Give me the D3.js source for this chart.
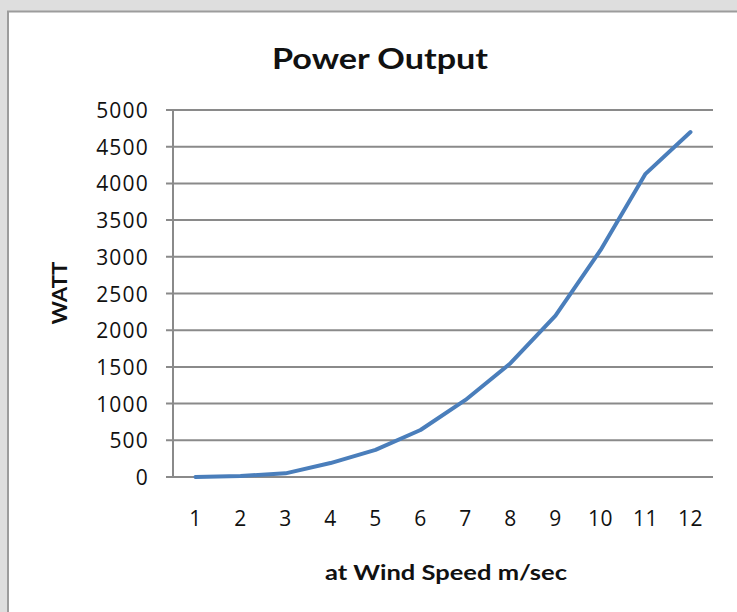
<!DOCTYPE html>
<html>
 <head>
  <title>Power Output</title>
  <style>
  body {
   margin: 0;
   background-color: #dedede;
  }
  text {
   font-family: Lato, "Open Sans", sans-serif;
   fill: #111;
  }
  .tick text {
   font-family: "Open Sans", sans-serif;
  }
  </style>
  <script src="https://cdnjs.cloudflare.com/ajax/libs/d3/7.8.3/d3.min.js"></script>
 </head>

 <body>
  <script>
   const windSpeeds = ["1", "2", "3", "4", "5", "6", "7", "8", "9", "10", "11", "12"];
   const watts = [0, 15, 50, 190, 370, 640, 1050, 1550, 2200, 3090, 4130, 4700];
   const yTicks = [0, 500, 1000, 1500, 2000, 2500, 3000, 3500, 4000, 4500, 5000];

   const w = 737;
   const h = 612;
   const padL = 173, padR = 713, padT = 110, padB = 477;

   const svg = d3.select("body")
                 .append("svg")
                 .attr("width", w)
                 .attr("height", h)
                 .style("display", "block");

   // chart panel with its frame
   svg.append("rect")
      .attr("x", 8)
      .attr("y", 11.5)
      .attr("width", w + 10)
      .attr("height", h + 10)
      .attr("fill", "white")
      .attr("stroke", "#9c9c9c")
      .attr("stroke-width", 2);

   const xScale = d3.scaleBand()
                    .domain(windSpeeds)
                    .range([padL, padR]);
   const yScale = d3.scaleLinear()
                    .domain([0, 5000])
                    .range([padB, padT]);

   // gridlines
   svg.append("g")
      .selectAll("line")
      .data(yTicks)
      .enter()
      .append("line")
      .attr("x1", padL - 7)
      .attr("x2", padR)
      .attr("y1", d => yScale(d))
      .attr("y2", d => yScale(d))
      .attr("stroke", "#8a8a8a")
      .attr("stroke-width", 2);

   // y axis line
   svg.append("line")
      .attr("x1", padL)
      .attr("x2", padL)
      .attr("y1", padT)
      .attr("y2", padB)
      .attr("stroke", "#8a8a8a")
      .attr("stroke-width", 2);

   const yAxis = d3.axisLeft(yScale)
                   .tickValues(yTicks)
                   .tickFormat(d3.format("d"))
                   .tickSize(0)
                   .tickPadding(24);
   const gy = svg.append("g")
                 .attr("transform", "translate(" + padL + ",0)")
                 .call(yAxis);
   gy.select(".domain").remove();
   gy.selectAll("text")
     .style("font-size", "21px")
     .style("letter-spacing", "1.2px")
     .attr("dy", "0.36em");

   const xAxis = d3.axisBottom(xScale)
                   .tickSize(0)
                   .tickPadding(34);
   const gx = svg.append("g")
                 .attr("transform", "translate(0," + padB + ")")
                 .call(xAxis);
   gx.select(".domain").remove();
   gx.selectAll("text")
     .style("font-size", "21px")
     .style("letter-spacing", "0.5px");

   // data line
   const line = d3.line()
                  .x((d, i) => xScale(windSpeeds[i]) + xScale.bandwidth() / 2)
                  .y(d => yScale(d));
   svg.append("path")
      .datum(watts)
      .attr("d", line)
      .attr("fill", "none")
      .attr("stroke", "#4a7ebb")
      .attr("stroke-width", 4)
      .attr("stroke-linejoin", "round")
      .attr("stroke-linecap", "round");

   // titles
   svg.append("text")
      .attr("x", 380)
      .attr("y", 69)
      .attr("text-anchor", "middle")
      .attr("textLength", 216)
      .attr("lengthAdjust", "spacingAndGlyphs")
      .style("font-size", "29px")
      .style("font-weight", "bold")
      .text("Power Output");

   svg.append("text")
      .attr("x", 446)
      .attr("y", 580)
      .attr("text-anchor", "middle")
      .attr("textLength", 242)
      .attr("lengthAdjust", "spacingAndGlyphs")
      .style("font-size", "20px")
      .style("font-weight", "bold")
      .text("at Wind Speed m/sec");

   svg.append("text")
      .attr("transform", "translate(67,293) rotate(-90)")
      .attr("text-anchor", "middle")
      .attr("textLength", 63)
      .attr("lengthAdjust", "spacingAndGlyphs")
      .style("font-size", "20px")
      .style("font-weight", "bold")
      .text("WATT");
  </script>
 </body>
</html>
